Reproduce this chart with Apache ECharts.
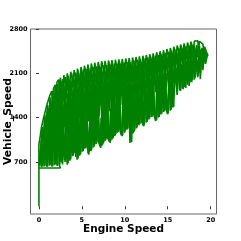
<!DOCTYPE html>
<html><head><meta charset="utf-8">
<script src="https://cdn.jsdelivr.net/npm/echarts@6/dist/echarts.min.js"></script>
<style>html,body{margin:0;padding:0;background:#fff}#c{width:241px;height:241px}</style>
</head><body><div id="c"></div>
<script>
const xTicks = [0, 5, 10, 15, 20];
const yTicks = [700, 1400, 2100, 2800];

const run1 = [[0,0],[0,980],[0.1,1060],[0.3,1250],[0.5,1370],[0.7,1480],[0.9,1590],[1.1,1680],[1.3,1760],[1.5,1820],[1.6,1600],[1.7,1860],[1.9,1920],[2.0,1700],[2.1,1960],[2.3,2000],[2.4,1750],[2.5,2030],[2.7,2050],[2.8,1800],[2.9,2070],[3.1,2090],[3.2,1850],[3.3,2100],[3.5,2115],[3.6,1900],[3.7,2125],[3.9,2140],[4.0,1950],[4.1,2150],[4.3,2165],[4.4,1980],[4.5,2175],[4.7,2190],[4.8,1950],[4.9,2200],[5.1,2210],[5.2,2000],[5.3,2220],[5.5,2230],[5.6,2050],[5.7,2240],[5.9,2248],[6.0,2000],[6.1,2255],[6.3,2262],[6.4,2080],[6.5,2268],[6.7,2274],[6.8,2050],[6.9,2280],[7.1,2285],[7.2,2100],[7.3,2290],[7.5,2294],[7.6,2120],[7.7,2298],[7.9,2300],[8.0,2080],[8.1,2303],[8.3,2306],[8.4,2150],[8.5,2309],[8.7,2312],[8.8,2100],[8.9,2315],[9.1,2318],[9.2,2130],[9.3,2321],[9.5,2324],[9.6,2160],[9.7,2327],[9.9,2330],[10.0,2120],[10.1,2334],[10.3,2338],[10.4,2180],[10.5,2342],[10.7,2346],[10.8,2100],[10.9,2350],[11.1,2354],[11.2,2170],[11.3,2358],[11.5,2363],[11.6,2200],[11.7,2368],[11.9,2373],[12.0,2150],[12.1,2378],[12.3,2384],[12.4,2200],[12.5,2390],[12.7,2396],[12.8,2220],[12.9,2402],[13.1,2409],[13.2,2250],[13.3,2416],[13.5,2424],[13.6,2230],[13.7,2432],[13.9,2440],[14.0,2270],[14.1,2448],[14.3,2456],[14.4,2300],[14.5,2465],[14.7,2474],[14.8,2290],[14.9,2483],[15.1,2492],[15.2,2330],[15.3,2500],[15.5,2510],[15.6,2340],[15.7,2520],[15.9,2530],[16.0,2380],[16.1,2540],[16.3,2548],[16.4,2400],[16.5,2556],[16.7,2564],[16.8,2420],[16.9,2572],[17.1,2580],[17.2,2430],[17.3,2587],[17.5,2594],[17.6,2450],[17.7,2600],[17.9,2605],[18.0,2470],[18.1,2610],[18.3,2614],[18.5,2612],[18.6,2480],[18.7,2605],[18.9,2590],[19.1,2560],[19.2,2430],[19.3,2520],[19.5,2440],[19.7,2380]];

const run2 = [[0.2,900],[0.4,1250],[0.5,1000],[0.7,1450],[0.8,1150],[1.0,1600],[1.1,1300],[1.3,1720],[1.4,1400],[1.6,1800],[1.7,1450],[1.9,1880],[2.0,1500],[2.2,1930],[2.3,1560],[2.5,1980],[2.6,1600],[2.8,2010],[2.9,1650],[3.1,2040],[3.2,1700],[3.4,2060],[3.5,1720],[3.7,2080],[3.8,1750],[4.0,2100],[4.1,1780],[4.3,2110],[4.4,1800],[4.6,2130],[4.7,1820],[4.9,2150],[5.0,1840],[5.2,2160],[5.3,1860],[5.5,2170],[5.6,1870],[5.8,2180],[5.9,1880],[6.1,2190],[6.2,1890],[6.4,2200],[6.5,1900],[6.7,2210],[6.8,1910],[7.0,2215],[7.1,1920],[7.3,2220],[7.4,1930],[7.6,2225],[7.7,1940],[7.9,2230],[8.0,1950],[8.2,2240],[8.3,1960],[8.5,2245],[8.6,1970],[8.8,2250],[8.9,1980],[9.1,2255],[9.2,1990],[9.4,2260],[9.5,2000],[9.7,2265],[9.8,2010],[10.0,2270],[10.1,2020],[10.3,2275],[10.4,2030],[10.6,2280],[10.7,2040],[10.9,2290],[11.0,2050],[11.2,2300],[11.3,2060],[11.5,2310],[11.6,2070],[11.8,2320],[11.9,2080],[12.1,2330],[12.2,2090],[12.4,2340],[12.5,2100],[12.7,2350],[12.8,2110],[13.0,2360],[13.1,2120],[13.3,2370],[13.4,2130],[13.6,2380],[13.7,2140],[13.9,2390],[14.0,2150],[14.2,2400],[14.3,2160],[14.5,2410],[14.6,2170],[14.8,2425],[14.9,2180],[15.1,2440],[15.2,2200],[15.4,2455],[15.5,2220],[15.7,2470],[15.8,2240],[16.0,2480],[16.1,2260],[16.3,2495],[16.4,2280],[16.6,2505],[16.7,2300],[16.9,2515],[17.0,2310],[17.2,2525],[17.3,2320],[17.5,2535],[17.6,2330],[17.8,2545],[17.9,2340],[18.1,2550],[18.2,2350],[18.4,2545],[18.5,2360],[18.7,2530],[18.8,2370],[19.0,2500],[19.1,2380],[19.3,2470],[19.5,2400],[19.7,2380]];

const run3 = [[0.1,640],[0.3,1050],[0.4,630],[0.6,1200],[0.7,640],[0.9,1350],[1.0,625],[1.2,1450],[1.3,650],[1.5,1550],[1.6,630],[1.8,1600],[1.9,660],[2.1,1650],[2.2,640],[2.4,1700],[2.5,1050],[2.7,1720],[2.8,1080],[3.0,1750],[3.1,1100],[3.3,1780],[3.4,1150],[3.6,1800],[3.7,1180],[3.9,1820],[4.0,1200],[4.2,1840],[4.3,1230],[4.5,1860],[4.6,1250],[4.8,1870],[4.9,1280],[5.1,1880],[5.2,1300],[5.4,1890],[5.5,1320],[5.7,1900],[5.8,1340],[6.0,1910],[6.1,1360],[6.3,1920],[6.4,1380],[6.6,1930],[6.7,1400],[6.9,1940],[7.0,1420],[7.2,1950],[7.3,1440],[7.5,1960],[7.6,1460],[7.8,1970],[7.9,1480],[8.1,1980],[8.2,1500],[8.4,1990],[8.5,1520],[8.7,2000],[8.8,1540],[9.0,2010],[9.1,1560],[9.3,2020],[9.4,1580],[9.6,2030],[9.7,1600],[9.9,2040],[10.0,1620],[10.2,2050],[10.3,1640],[10.5,2060],[10.6,1650],[10.8,2070],[10.9,1660],[11.1,2080],[11.2,1670],[11.4,2090],[11.5,1680],[11.7,2100],[11.8,1690],[12.0,2110],[12.1,1700],[12.3,2120],[12.4,1720],[12.6,2130],[12.7,1740],[12.9,2140],[13.0,1760],[13.2,2150],[13.3,1780],[13.5,2160],[13.6,1800],[13.8,2170],[13.9,1820],[14.1,2180],[14.2,1840],[14.4,2190],[14.5,1860],[14.7,2200],[14.8,1880],[15.0,2210],[15.1,1900],[15.3,2220],[15.4,1920],[15.6,2230],[15.7,1940],[15.9,2240],[16.0,1960],[16.2,2250],[16.3,1980],[16.5,2260],[16.6,2000],[16.8,2270],[16.9,2020],[17.1,2280],[17.2,2040],[17.4,2290],[17.5,2060],[17.7,2300],[17.8,2080],[18.0,2310],[18.1,2100],[18.3,2320],[18.4,2120],[18.6,2330],[18.7,2140],[18.9,2340],[19.0,2200],[19.2,2350],[19.4,2300]];

const run4 = [[0.0,605],[2.5,605],[2.4,640],[2.55,1100],[2.7,690],[2.85,1150],[3.0,730],[3.15,1200],[3.25,770],[3.3,657],[3.45,1250],[3.6,720],[3.75,1300],[3.9,790],[4.05,1330],[4.2,840],[4.35,1360],[4.45,737],[4.6,1400],[4.75,800],[4.9,1430],[5.05,860],[5.2,1460],[5.35,910],[5.5,1480],[5.6,950],[5.8,816],[5.95,1500],[6.1,880],[6.25,1530],[6.4,940],[6.55,1560],[6.7,990],[6.85,1590],[7.0,1030],[7.2,922],[7.35,1610],[7.5,990],[7.65,1640],[7.8,1050],[7.95,1660],[8.1,1100],[8.3,1002],[8.45,1690],[8.6,1070],[8.75,1710],[8.9,1120],[9.05,1730],[9.2,1170],[9.35,1750],[9.5,1210],[9.7,1108],[9.85,1780],[10.0,1170],[10.15,1800],[10.3,1220],[10.45,1820],[10.6,1000],[10.7,1840],[10.8,1010],[10.95,1860],[11.1,1187],[11.25,1880],[11.4,1240],[11.55,1900],[11.7,1290],[11.85,1920],[12.0,1330],[12.2,1266],[12.35,1950],[12.5,1320],[12.65,1970],[12.8,1370],[12.95,1990],[13.1,1410],[13.25,2010],[13.4,1440],[13.6,1346],[13.75,2040],[13.9,1400],[14.05,2060],[14.2,1450],[14.35,2080],[14.5,1490],[14.65,2100],[14.8,1530],[15.0,1452],[15.15,2130],[15.3,1510],[15.45,2150],[15.6,1560],[15.8,1585],[15.9,2180],[16.1,1760],[16.25,2200],[16.5,1823],[16.65,2230],[16.8,1850],[16.95,2260],[17.1,1870],[17.25,2290],[17.5,1900],[17.65,2310],[17.8,1960],[17.95,2330],[18.1,2000],[18.25,2350],[18.5,2040],[18.65,2370],[18.8,2009],[18.95,2390],[19.1,2150],[19.25,2400],[19.4,2250],[19.6,2380]];

const run5 = [[0.05,640],[0.15,900],[0.3,620],[0.45,1000],[0.6,630],[0.75,1100],[0.9,625],[1.05,1150],[1.2,640],[1.35,1200],[1.5,630],[1.65,1250],[1.8,650],[1.95,1300],[2.1,640],[2.25,1350],[2.4,660],[2.55,1380],[2.7,700],[2.85,1300],[3.0,740],[3.15,1400],[3.35,700],[3.5,1350],[3.65,760],[3.8,1450],[3.95,820],[4.1,1400],[4.25,860],[4.4,1500],[4.5,760],[4.65,1450],[4.8,830],[4.95,1550],[5.1,880],[5.25,1500],[5.4,930],[5.55,1600],[5.7,970],[5.85,850],[6.0,1550],[6.15,900],[6.3,1650],[6.45,960],[6.6,1600],[6.75,1010],[6.9,1700],[7.05,1050],[7.25,950],[7.4,1700],[7.55,1010],[7.7,1750],[7.85,1070],[8.0,1700],[8.15,1110],[8.35,1030],[8.5,1800],[8.65,1080],[8.8,1750],[8.95,1140],[9.1,1850],[9.25,1180],[9.4,1800],[9.55,1220],[9.75,1130],[9.9,1850],[10.05,1190],[10.2,1900],[10.35,1240],[10.5,1850],[10.65,1050],[10.75,1900],[10.9,1150],[11.15,1210],[11.3,1950],[11.45,1260],[11.6,1900],[11.75,1300],[11.9,2000],[12.05,1340],[12.25,1290],[12.4,1950],[12.55,1340],[12.7,2050],[12.85,1390],[13.0,2000],[13.15,1420],[13.3,2100],[13.45,1450],[13.65,1370],[13.8,2050],[13.95,1420],[14.1,2150],[14.25,1470],[14.4,2100],[14.55,1500],[14.7,2200],[14.85,1540],[15.05,1470],[15.2,2150],[15.35,1520],[15.5,2250],[15.65,1570],[15.8,1600],[15.95,2200],[16.1,1780],[16.25,2300],[16.4,1830],[16.55,2250],[16.7,1860],[16.85,2350],[17.0,1880],[17.15,2300],[17.3,1920],[17.45,2400],[17.6,1960],[17.75,2350],[17.9,2000],[18.05,2420],[18.2,2030],[18.35,2380],[18.5,2060],[18.65,2450],[18.8,2100],[18.95,2400],[19.1,2200],[19.25,2450],[19.45,2320],[19.6,2400]];

const run6 = [[0.25,800],[0.35,1200],[0.55,850],[0.65,1350],[0.85,900],[0.95,1500],[1.15,950],[1.25,1550],[1.45,1000],[1.55,1650],[1.75,1050],[1.85,1700],[2.05,1100],[2.15,1750],[2.35,1150],[2.45,1800],[2.65,1200],[2.75,1750],[2.95,1250],[3.05,1850],[3.25,1100],[3.4,1800],[3.55,1300],[3.7,1900],[3.85,1200],[4.0,1850],[4.15,1350],[4.3,1950],[4.45,1250],[4.6,1900],[4.75,1400],[4.9,2000],[5.05,1300],[5.2,1950],[5.35,1450],[5.5,2050],[5.65,1350],[5.8,2000],[5.95,1500],[6.1,2080],[6.25,1400],[6.4,2050],[6.55,1550],[6.7,2100],[6.85,1450],[7.0,2050],[7.15,1600],[7.3,2120],[7.45,1500],[7.6,2080],[7.75,1650],[7.9,2150],[8.05,1550],[8.2,2100],[8.35,1700],[8.5,2170],[8.65,1600],[8.8,2120],[8.95,1750],[9.1,2190],[9.25,1650],[9.4,2140],[9.55,1800],[9.7,2200],[9.85,1700],[10.0,2160],[10.15,1850],[10.3,2220],[10.45,1750],[10.6,2180],[10.75,1880],[10.9,2240],[11.05,1780],[11.2,2200],[11.35,1900],[11.5,2260],[11.65,1820],[11.8,2220],[11.95,1950],[12.1,2280],[12.25,1850],[12.4,2240],[12.55,1980],[12.7,2300],[12.85,1880],[13.0,2270],[13.15,2000],[13.3,2320],[13.45,1920],[13.6,2300],[13.75,2050],[13.9,2350],[14.05,1950],[14.2,2320],[14.35,2080],[14.5,2380],[14.65,2000],[14.8,2350],[14.95,2120],[15.1,2400],[15.25,2050],[15.4,2380],[15.55,2150],[15.7,2430],[15.85,2100],[16.0,2400],[16.15,2200],[16.3,2460],[16.45,2150],[16.6,2430],[16.75,2250],[16.9,2480],[17.05,2200],[17.2,2460],[17.35,2280],[17.5,2500],[17.65,2250],[17.8,2480],[17.95,2320],[18.1,2520],[18.25,2300],[18.4,2500],[18.55,2350],[18.7,2480],[18.85,2300],[19.0,2450],[19.15,2350],[19.35,2420],[19.55,2360]];

const run7 = [[2.45,700],[2.6,950],[2.75,660],[2.9,1000],[3.05,700],[3.2,1050],[3.4,680],[3.55,1100],[3.7,740],[3.85,1150],[4.0,800],[4.15,1200],[4.3,780],[4.5,1250],[4.55,750],[4.7,1200],[4.85,820],[5.0,1300],[5.15,870],[5.3,1250],[5.45,920],[5.6,1350],[5.75,830],[5.9,1300],[6.05,870],[6.2,1400],[6.35,930],[6.5,1350],[6.65,980],[6.8,1450],[6.95,1020],[7.1,950],[7.25,1400],[7.4,960],[7.55,1500],[7.7,1030],[7.85,1450],[8.0,1080],[8.2,1020],[8.35,1550],[8.5,1050],[8.65,1500],[8.8,1110],[8.95,1600],[9.1,1160],[9.3,1550],[9.45,1190],[9.6,1120],[9.8,1650],[9.95,1160],[10.1,1600],[10.25,1210],[10.4,1700],[10.55,1230],[11.0,1650],[11.1,1200],[11.2,1700],[11.35,1230],[11.5,1750],[11.65,1280],[11.8,1700],[11.95,1320],[12.1,1800],[12.25,1280],[12.4,1750],[12.6,1330],[12.75,1850],[12.9,1390],[13.05,1800],[13.2,1420],[13.35,1900],[13.5,1400],[13.7,1360],[13.85,1850],[14.0,1410],[14.15,1950],[14.3,1460],[14.45,1900],[14.6,1500],[14.75,2000],[14.9,1500],[15.1,1480],[15.25,1950],[15.4,1530],[15.55,2050],[15.7,1570]];

const runs = [run1, run2, run3, run4, run5, run6, run7];

const font = 'DejaVu Sans';
const chart = echarts.init(document.getElementById('c'), null, {renderer: 'canvas'});
chart.setOption({
  animation: false,
  backgroundColor: '#fff',
  grid: {left: 30.5, top: 29, right: 24.5, bottom: 27, show: true, borderColor: '#666', borderWidth: 1, backgroundColor: 'transparent', containLabel: false, outerBoundsMode: 'none'},
  xAxis: {
    type: 'value', min: -0.98, max: 20.68,
    name: 'Engine Speed', nameLocation: 'middle', nameGap: 10, nameMoveOverlap: false,
    nameTextStyle: {fontFamily: font, fontWeight: 'bold', fontSize: 10.5, color: '#000'},
    axisLine: {show: false},
    axisTick: {show: true, length: 3, lineStyle: {color: '#333'}, customValues: xTicks},
    axisLabel: {fontFamily: font, fontWeight: 'bold', fontSize: 6.5, color: '#000', margin: 3, customValues: xTicks, formatter: v => String(v)},
    splitLine: {show: false}
  },
  yAxis: {
    type: 'value', min: -122, max: 2800,
    name: 'Vehicle_Speed', nameLocation: 'middle', nameGap: 17, nameRotate: 90, nameMoveOverlap: false,
    nameTextStyle: {fontFamily: font, fontWeight: 'bold', fontSize: 10.8, color: '#000'},
    axisLine: {show: false},
    axisTick: {show: true, length: 3, lineStyle: {color: '#333'}, customValues: yTicks},
    axisLabel: {fontFamily: font, fontWeight: 'bold', fontSize: 6.5, color: '#000', margin: 3, customValues: yTicks, formatter: v => String(v)},
    splitLine: {show: false}
  },
  series: runs.map(r => ({
    type: 'line', data: r, showSymbol: false, symbol: 'none', silent: true,
    lineStyle: {color: '#008000', width: 1.6}
  }))
});
</script></body></html>
